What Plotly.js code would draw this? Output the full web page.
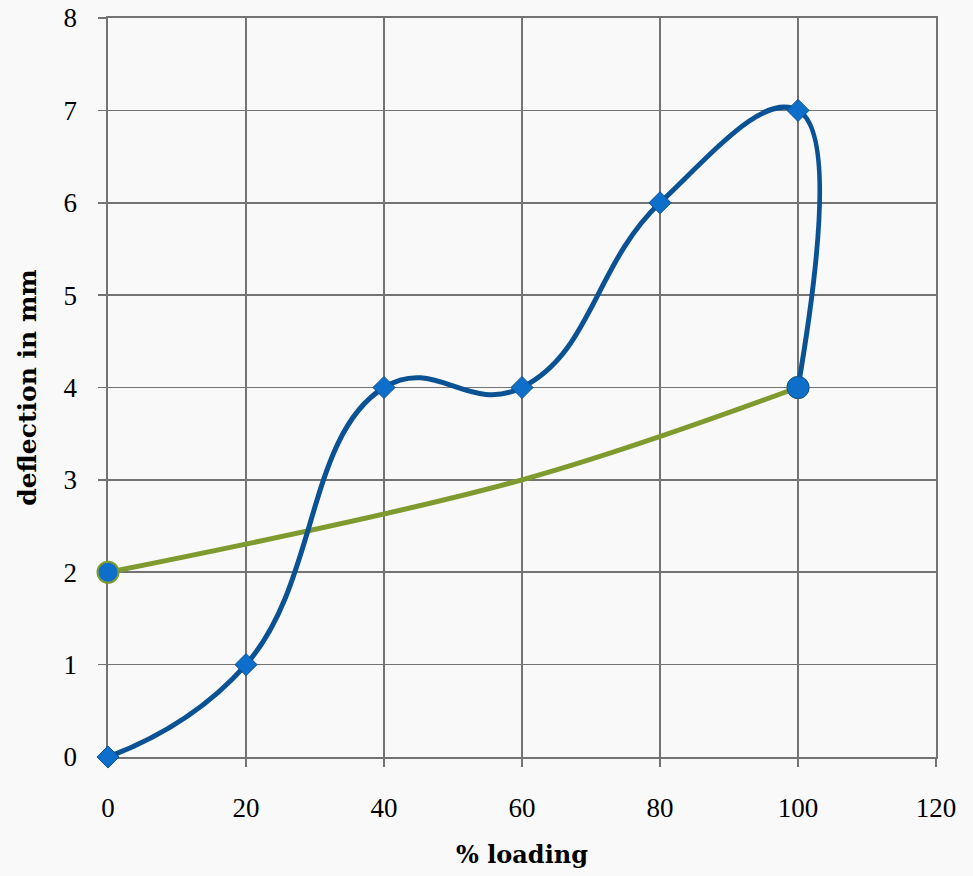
<!DOCTYPE html>
<html>
<head>
<meta charset="utf-8">
<script src="https://cdn.plot.ly/plotly-3.0.1.min.js"></script>
<style>html,body{margin:0;padding:0;background:#f9f9f9;}</style>
</head>
<body>
<div id="chart" style="width:973px;height:876px;"></div>
<script>
// Loading curve (blue)
const loadX = [0, 20, 40, 60, 80, 100, 100];
const loadY = [0, 1, 4, 4, 6, 7, 4];
const loadSymbols = ['diamond','diamond','diamond','diamond','diamond','diamond','circle'];
// Unloading curve (green)
const unloadX = [0, 60, 100];
const unloadY = [2, 3, 4];
// Axis ticks
const xTicks = [0, 20, 40, 60, 80, 100, 120];
const yTicks = [0, 1, 2, 3, 4, 5, 6, 7, 8];

const serif = '"Liberation Serif", "DejaVu Serif", serif';
const titleSerif = '"DejaVu Serif", "Liberation Serif", serif';

const traces = [
  {
    x: unloadX, y: unloadY, type: 'scatter', mode: 'lines+markers', cliponaxis: false,
    line: {color: '#7f9a2e', width: 5, shape: 'spline', smoothing: 1},
    marker: {symbol: 'circle', size: [21, 0, 21], color: '#0e6fcb', opacity: 1,
             line: {color: '#7f9a2e', width: 2}},
    hoverinfo: 'skip', showlegend: false
  },
  {
    x: loadX, y: loadY, type: 'scatter', mode: 'lines+markers', cliponaxis: false,
    line: {color: '#0a5294', width: 5, shape: 'spline', smoothing: 1.3},
    marker: {symbol: loadSymbols, size: [17,17,17,17,17,17,22], color: '#0e6fcb', opacity: 1,
             line: {color: '#0a5294', width: 1}},
    hoverinfo: 'skip', showlegend: false
  }
];

const axisCommon = {
  showgrid: true, gridcolor: '#737373', gridwidth: 1.6,
  zeroline: false, showline: true, linecolor: '#737373', linewidth: 1.6,
  mirror: true, layer: 'below traces',
  ticks: 'outside', ticklen: 8, tickcolor: '#737373', tickwidth: 1.6,
  tickfont: {family: serif, size: 27, color: '#000'}
};

const layout = {
  width: 973, height: 876,
  paper_bgcolor: '#f9f9f9', plot_bgcolor: '#f9f9f9',
  margin: {l: 108, r: 37, t: 18, b: 119},
  font: {family: serif, color: '#000'},
  xaxis: Object.assign({}, axisCommon, {
    range: [0, 120], tickvals: xTicks, ticktext: xTicks.map(String),
    ticklabelstandoff: 18,
    title: {text: '<b>% loading</b>', font: {family: titleSerif, size: 24, color: '#000'}, standoff: 24}
  }),
  yaxis: Object.assign({}, axisCommon, {
    range: [0, 8], tickvals: yTicks, ticktext: yTicks.map(String),
    ticklabelstandoff: 16,
    title: {text: '<b>deflection in mm</b>', font: {family: titleSerif, size: 25, color: '#000'}, standoff: 20}
  })
};

Plotly.newPlot('chart', traces, layout, {displayModeBar: false, staticPlot: true});
</script>
</body>
</html>
